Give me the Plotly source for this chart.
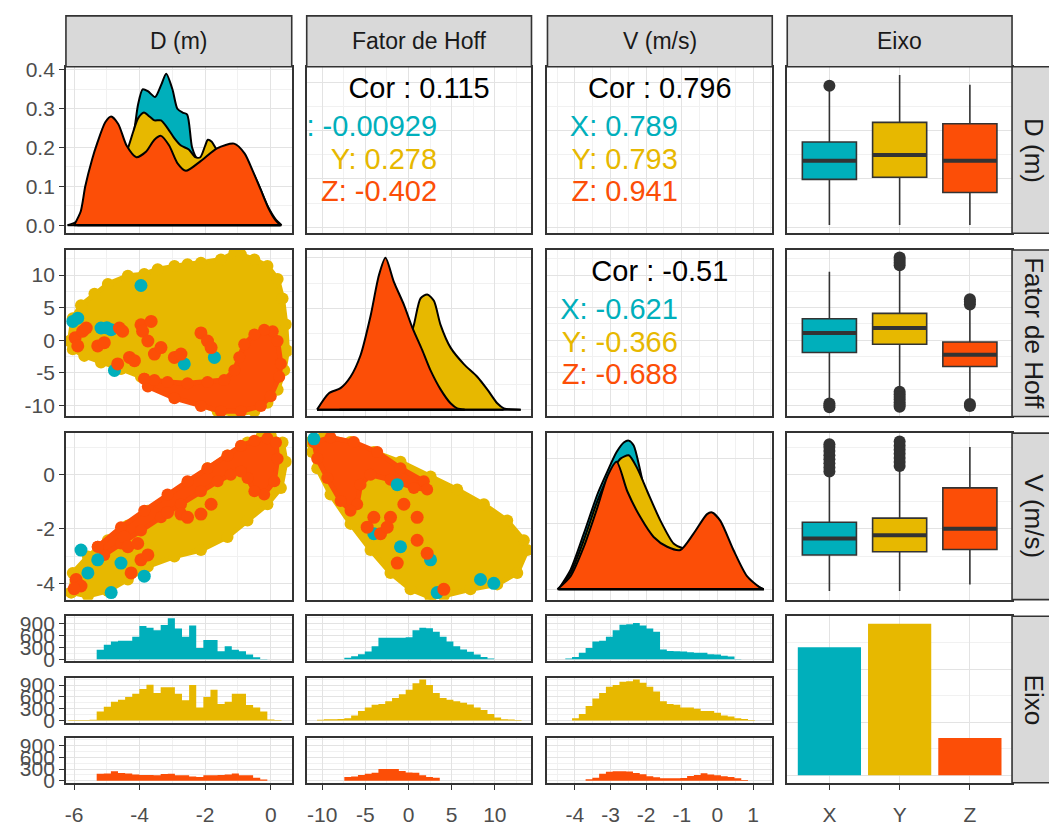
import plotly.graph_objects as go

W, H = 1049, 831
FONT = "Liberation Sans, Arial, Helvetica, sans-serif"
BORDER = "#333333"
GRID_MAJOR = "#E3E3E3"
GRID_MINOR = "#F1F1F1"
STRIP_FILL = "#D9D9D9"

GROUPS = ["X", "Y", "Z"]
GROUP_COLORS = ["#00AFBB", "#E7B800", "#FC4E07"]
VAR_LABELS = ["D (m)", "Fator de Hoff", "V (m/s)", "Eixo"]

# ---------------- correlations ----------------
COR_D_HOFF = 0.115
COR_D_HOFF_GROUP = [-0.00929, 0.278, -0.402]
COR_D_V = 0.796
COR_D_V_GROUP = [0.789, 0.793, 0.941]
COR_HOFF_V = -0.51
COR_HOFF_V_GROUP = [-0.621, -0.366, -0.688]

# ---------------- counts per Eixo ----------------
EIXO_COUNTS = [12100, 14300, 3530]

# ---------------- density curves ----------------
DENS_D = {
    "X": ([-5.9, -5.6, -5.3, -5.0, -4.7, -4.4, -4.2, -4.05, -3.91, -3.75, -3.53, -3.35, -3.19, -3.0,
           -2.85, -2.69, -2.55, -2.4, -2.23, -2.0, -1.7, -1.4, -1.1, -0.8, -0.5, -0.2, 0.1, 0.3],
          [0.0, 0.03, 0.09, 0.14, 0.17, 0.19, 0.23, 0.31, 0.35, 0.345, 0.33, 0.36, 0.39, 0.35,
           0.30, 0.29, 0.285, 0.2, 0.17, 0.17, 0.16, 0.15, 0.12, 0.09, 0.06, 0.025, 0.005, 0.0]),
    "Y": ([-6.2, -5.9, -5.6, -5.3, -5.0, -4.7, -4.4, -4.2, -4.05, -3.87, -3.7, -3.55, -3.35, -3.15, -2.95,
           -2.74, -2.5, -2.3, -2.15, -2.0, -1.92, -1.8, -1.6, -1.3, -1.0, -0.7, -0.4, -0.1, 0.15, 0.33],
          [0.0, 0.01, 0.04, 0.09, 0.13, 0.16, 0.19, 0.24, 0.275, 0.29, 0.28, 0.27, 0.27, 0.25, 0.225,
           0.205, 0.195, 0.175, 0.175, 0.205, 0.22, 0.215, 0.19, 0.19, 0.195, 0.16, 0.11, 0.05, 0.015, 0.0]),
    "Z": ([-6.0, -5.8, -5.66, -5.45, -5.3, -5.05, -4.87, -4.65, -4.4, -4.1, -3.8, -3.55, -3.35, -3.1,
           -2.85, -2.59, -2.14, -1.64, -1.12, -0.8, -0.55, -0.3, -0.05, 0.15, 0.3],
          [0.0, 0.035, 0.1, 0.17, 0.21, 0.265, 0.28, 0.26, 0.205, 0.175, 0.19, 0.22, 0.23, 0.205,
           0.16, 0.14, 0.165, 0.198, 0.21, 0.185, 0.14, 0.09, 0.04, 0.012, 0.0]),
}
DENS_HOFF = {
    "X": ([-8, -6, -4, -2, 0, 1, 2, 3, 4, 6, 8, 10, 11],
          [0, 0.006, 0.022, 0.036, 0.048, 0.06, 0.072, 0.066, 0.048, 0.026, 0.012, 0.002, 0]),
    "Y": ([-10.6, -8, -6, -4, -2, 0, 0.62, 1.39, 2.17, 2.94, 3.71, 4.87, 6.41, 7.96, 9.12, 10.28, 11.05, 13.0],
          [0, 0.004, 0.012, 0.024, 0.04, 0.055, 0.067, 0.088, 0.091, 0.086, 0.067, 0.049, 0.036, 0.026,
           0.016, 0.005, 0.001, 0]),
    "Z": ([-10.6, -9.23, -7.88, -6.72, -5.56, -4.4, -3.44, -2.67, -1.7, -0.54, 0.43, 1.59, 2.55, 3.71,
           4.87, 5.64, 6.5],
          [0, 0.013, 0.017, 0.026, 0.043, 0.074, 0.106, 0.12, 0.101, 0.083, 0.065, 0.047, 0.031, 0.016,
           0.005, 0.001, 0]),
}
DENS_V = {
    "X": ([-4.46, -4.12, -3.75, -3.37, -3.09, -2.83, -2.62, -2.49, -2.35, -2.16, -1.97, -1.6, -1.23,
           -0.95, -0.67, -0.29, 0.08, 0.45, 0.83, 1.2, 1.3],
          [0, 0.06, 0.17, 0.29, 0.36, 0.42, 0.45, 0.455, 0.44, 0.36, 0.27, 0.18, 0.12, 0.10, 0.09,
           0.085, 0.07, 0.045, 0.02, 0.003, 0]),
    "Y": ([-4.46, -4.12, -3.75, -3.37, -3.09, -2.86, -2.72, -2.49, -2.25, -1.97, -1.6, -1.23, -0.95,
           -0.67, -0.29, 0.08, 0.45, 0.83, 1.2, 1.3],
          [0, 0.05, 0.15, 0.27, 0.34, 0.38, 0.40, 0.41, 0.37, 0.30, 0.21, 0.14, 0.125, 0.12, 0.13,
           0.11, 0.07, 0.03, 0.005, 0]),
    "Z": ([-4.49, -4.12, -3.75, -3.37, -3.09, -2.83, -2.53, -2.16, -1.79, -1.41, -1.04, -0.67, -0.29,
           -0.15, 0.08, 0.45, 0.83, 1.2, 1.3],
          [0, 0.04, 0.13, 0.25, 0.345, 0.39, 0.30, 0.22, 0.16, 0.13, 0.12, 0.17, 0.23, 0.235, 0.21,
           0.12, 0.04, 0.005, 0]),
}

# ---------------- histograms (30 bins each) ----------------
BINS_D = (-6.18, 0.217)
BINS_HOFF = (-10.6, 0.79)
BINS_V = (-4.46, 0.19)
HIST_D = {
    "X": [0, 0, 0, 0, 245, 370, 450, 470, 470, 575, 845, 800, 740, 870, 1040, 780, 575, 860, 290, 490,
          490, 205, 330, 245, 205, 125, 50, 10, 0, 0],
    "Y": [15, 15, 15, 20, 230, 350, 475, 530, 600, 680, 800, 910, 700, 845, 845, 680, 515, 900, 330, 600,
          780, 420, 475, 680, 680, 395, 330, 230, 25, 15],
    "Z": [0, 0, 0, 0, 180, 185, 245, 200, 190, 160, 150, 150, 145, 175, 180, 140, 140, 110, 100, 140,
          145, 150, 160, 190, 145, 140, 80, 30, 0, 0],
}
HIST_HOFF = {
    "X": [0, 0, 0, 0, 40, 80, 130, 200, 330, 550, 550, 550, 550, 560, 740, 800, 790, 700, 575, 450,
          330, 250, 190, 125, 60, 20, 0, 0, 0, 0],
    "Y": [20, 30, 35, 40, 60, 125, 245, 330, 400, 420, 490, 575, 670, 780, 945, 1040, 900, 700, 575, 530,
          490, 450, 410, 330, 270, 165, 80, 35, 25, 15],
    "Z": [0, 0, 0, 0, 100, 110, 150, 180, 205, 300, 300, 300, 250, 210, 205, 140, 100, 80, 0, 0,
          0, 0, 0, 0, 0, 0, 0, 0, 0, 0],
}
HIST_V = {
    "X": [0, 20, 60, 165, 290, 450, 470, 575, 740, 880, 890, 920, 860, 780, 700, 250, 210, 205, 200, 180,
          165, 165, 130, 125, 90, 70, 10, 0, 0, 0],
    "Y": [0, 0, 60, 165, 370, 560, 700, 860, 900, 985, 1000, 1040, 960, 860, 740, 490, 420, 400, 330, 330,
          300, 245, 245, 200, 125, 100, 60, 40, 15, 0],
    "Z": [0, 0, 0, 0, 40, 80, 180, 230, 245, 245, 240, 200, 165, 115, 90, 65, 65, 65, 70, 120,
          150, 195, 160, 145, 115, 100, 65, 20, 0, 0],
}

# ---------------- box plot statistics ----------------
BOX_D = dict(q1=[-4.02, -3.93, -4.56], med=[-3.25, -3.01, -3.25], q3=[-2.47, -1.66, -1.72],
             lo=[-5.91, -5.91, -5.91], hi=[-0.33, 0.30, -0.10])
OUT_D = [[-0.15], [], []]
BOX_HOFF = dict(q1=[-1.88, -0.62, -4.03], med=[1.13, 1.88, -2.23], q3=[3.29, 4.13, -0.27],
                lo=[-9.3, -7.7, -9.5], hi=[10.5, 11.2, 5.3])
OUT_HOFF = [[-9.7, -10.0, -10.3],
            [11.5, 11.9, 12.3, 12.7, -7.9, -8.3, -8.7, -9.1, -9.5, -9.9, -10.2],
            [5.5, 5.9, 6.3, -9.8, -10.1]]
BOX_V = dict(q1=[-2.96, -2.84, -2.76], med=[-2.36, -2.24, -2.0], q3=[-1.76, -1.61, -0.5],
             lo=[-4.28, -4.28, -4.04], hi=[0.0, 0.2, 1.0])
OUT_V = [[0.1, 0.25, 0.4, 0.55, 0.7, 0.85, 1.0, 1.1],
         [0.3, 0.45, 0.6, 0.75, 0.9, 1.05, 1.2],
         []]

# ---------------- scatter clouds ----------------
# D (m) vs Fator de Hoff
CLOUD_DH = dict(
    hull_x=[-6.14, -6.04, -5.79, -5.38, -4.97, -4.36, -3.86, -3.45, -2.94, -2.54, -2.13, -1.52, -1.11, -0.91,
            -0.50, -0.10, 0.21, 0.36, 0.46, 0.51, 0.41, 0.21, -0.10, -0.50, -1.11, -1.62, -2.13, -2.74,
            -3.35, -3.96, -4.57, -5.18, -5.69, -6.04],
    hull_y=[-0.12, 3.39, 5.39, 7.14, 8.65, 9.9, 10.15, 10.9, 11.4, 11.65, 11.9, 12.4, 13.4, 13.15,
            12.4, 11.4, 9.4, 6.4, 2.4, -1.6, -4.6, -7.6, -9.6, -10.9, -11.4, -10.9, -9.9, -8.4,
            -7.1, -5.6, -4.4, -3.4, -2.4, -1.4],
    z_area_x=[-3.86, -3.75, -2.94, -2.13, -1.52, -0.91, -0.30, 0.0, 0.26, 0.31, 0.21, 0.06, -0.2, -0.5,
              -0.81, -0.96, -1.11, -1.42, -1.93, -2.54, -3.15, -3.55],
    z_area_y=[-5.9, -7.1, -8.9, -10.1, -10.9, -10.9, -10.1, -8.6, -5.6, -3.6, -0.1, 1.4, 1.6, 0.9,
              -0.6, -2.6, -4.6, -6.1, -6.4, -6.6, -6.4, -6.1],
    x_pts_x=[-5.89, -5.18, -5.0, -4.87, -3.96, -4.77, -2.64, -1.72, -6.04],
    x_pts_y=[3.39, 1.88, 1.9, 1.63, 8.4, -4.63, -3.63, -2.63, 2.89],
    z_pts_x=[-5.97, -5.89, -5.74, -5.63, -5.28, -5.08, -4.62, -4.52, -4.31, -3.96, -3.91, -3.75, -3.55,
             -3.35, -2.94, -2.74, -2.13, -1.93, -1.82, -3.65, -4.67, -4.16],
    z_pts_y=[0.38, -0.87, 1.38, 1.88, -0.87, -0.37, 1.88, 1.38, -2.63, 2.38, 1.38, -0.12, -2.12,
             -1.12, -2.63, -2.12, 1.13, -0.12, -1.12, 2.89, -3.63, -3.13],
)
# D (m) vs V (m/s)
CLOUD_DV = dict(
    hull_x=[-6.09, -5.58, -4.97, -4.36, -3.75, -2.94, -2.13, -1.32, -0.71, -0.10, 0.31, 0.46, 0.36, 0.0,
            -0.30, -0.71, -1.32, -1.93, -2.54, -3.15, -3.75, -4.36, -4.97, -5.58, -6.04],
    hull_y=[-4.34, -4.46, -4.28, -3.86, -3.38, -3.02, -2.78, -2.3, -1.7, -1.1, -0.5, 0.46, 1.17, 1.41,
            1.35, 1.17, 0.69, 0.22, -0.32, -0.86, -1.34, -1.88, -2.42, -3.02, -3.62],
    z_area_x=[-5.28, -4.57, -3.86, -3.15, -2.54, -1.93, -1.32, -0.91, -0.5, -0.1, 0.16, 0.21, 0.11, -0.2,
              -0.5, -0.71, -0.91, -1.22, -1.62, -2.13, -2.74, -3.35, -3.96, -4.57, -5.08],
    z_area_y=[-2.66, -1.94, -1.34, -0.74, -0.26, 0.22, 0.69, 1.05, 1.23, 1.32, 1.17, 0.57, -0.26, -0.74,
              -0.62, -0.14, 0.1, -0.02, -0.26, -0.62, -1.1, -1.58, -2.06, -2.54, -2.96],
    x_pts_x=[-5.28, -4.57, -3.86, -4.87, -5.58, -5.79],
    x_pts_y=[-3.14, -3.26, -3.74, -4.34, -3.62, -2.78],
    z_pts_x=[-5.94, -5.79, -6.0, -4.47, -4.36, -3.96, -3.75, -3.15, -2.74, -2.54, -2.13, -1.82, -4.06, -4.26],
    z_pts_y=[-3.86, -4.1, -4.2, -2.3, -2.66, -3.14, -2.96, -1.4, -1.46, -1.58, -1.46, -1.1, -2.54, -3.62],
)
# Fator de Hoff vs V (m/s)
CLOUD_HV = dict(
    hull_x=[-11.36, -9.81, -6.72, -4.02, -0.93, 2.55, 5.64, 8.73, 11.44, 13.36, 13.75, 12.6, 10.28, 7.18,
            4.09, 2.55, 0.23, -2.09, -4.4, -6.72, -9.04, -10.58, -11.17],
    hull_y=[1.18, 1.41, 1.18, 0.82, 0.46, -0.08, -0.56, -1.1, -1.7, -2.42, -2.78, -3.62, -4.04, -4.22,
            -4.46, -4.52, -4.22, -3.62, -2.78, -1.82, -0.74, 0.22, 0.82],
    z_area_x=[-10.97, -9.04, -6.34, -3.63, -0.93, 1.77, 2.16, 0.61, -2.09, -4.4, -5.56, -5.95, -6.72,
              -7.88, -9.42, -10.58],
    z_area_y=[1.18, 1.35, 1.18, 0.82, 0.22, -0.26, -0.56, -0.5, -0.2, -0.02, -0.38, -1.1, -1.34,
              -0.98, -0.14, 0.58],
    x_pts_x=[8.34, 9.88, -0.93, -1.31, -4.02, 3.32, -10.97, 2.55],
    x_pts_y=[-3.86, -4.0, -2.66, -0.38, -2.18, -4.34, 1.3, -3.14],
    z_pts_x=[-2.09, -0.54, 1.0, 1.0, -1.31, -3.24, -2.47, 2.16, 4.09, -4.02, -4.79],
    z_pts_y=[-1.58, -1.1, -1.58, -2.42, -3.26, -2.18, -1.94, -2.9, -4.22, -1.58, -1.94],
)

# ---------------- panel geometry (pixels) ----------------
COLS = [(65, 291), (306, 531), (547, 772), (787, 1012)]
ROWS = [(60, 230), (247, 417), (434, 604), (621, 791)]
SUBROWS = [(621, 667), (683.5, 729.5), (745.5, 791)]
STRIP_TOP = (8, 60)
STRIP_RIGHT = (1012, 1062)

D_LIM = [-6.25, 0.64]
HOFF_XLIM = [-11.8, 14.25]
HOFF_YLIM = [-11.7, 13.86]
V_XLIM = [-4.77, 1.54]
V_YLIM = [-4.6, 1.51]
CAT_LIM = [-0.6, 2.6]
DENS_LIM = [[-0.021, 0.408], [-0.0054, 0.1262], [-0.032, 0.478]]
HIST_LIM = [-52, 1092]
BAR_LIM = [-715, 15015]
BOX_WIDTH = 0.77
BAR_WIDTH = 0.9
TICK_SIZE = 21


def xdom(c):
    a, b = COLS[c]
    return [a / W, b / W]


def ydom(top, bottom):
    return [1 - bottom / H, 1 - top / H]


def fmt_tick(v, decimals):
    # plain ASCII hyphen for negatives
    return f"{v:.{decimals}f}"


def axis(rng, dtick=None, minor=None, tickvals=None, ticktext=None, labels=False, decimals=0,
         standoff=0):
    a = dict(range=rng, showgrid=True, gridcolor=GRID_MAJOR, gridwidth=1.1, zeroline=False,
             showline=True, linecolor=BORDER, linewidth=1.7, mirror=True,
             ticks="outside" if labels else "", ticklen=5, tickwidth=1.3, tickcolor=BORDER,
             showticklabels=labels, tickfont=dict(family=FONT, size=TICK_SIZE, color="#4D4D4D"),
             fixedrange=True)
    if standoff:
        a["ticklabelstandoff"] = standoff
    if tickvals is None:
        k0 = int(-(-rng[0] // dtick))
        k1 = int(rng[1] // dtick)
        tickvals = [round(k * dtick, 6) for k in range(k0, k1 + 1)]
        ticktext = [fmt_tick(v, decimals) for v in tickvals]
    a.update(tickmode="array", tickvals=tickvals, ticktext=ticktext)
    if minor:
        a["minor"] = dict(tickmode="linear", tick0=0, dtick=minor, showgrid=True,
                          gridcolor=GRID_MINOR, gridwidth=0.8, ticks="")
    return a


def col_axis(c, labels=False):
    so = 7 if labels else 0
    if c == 0:
        return axis(D_LIM, 2, 1, labels=labels, standoff=so)
    if c == 1:
        return axis(HOFF_XLIM, 5, 2.5, labels=labels, standoff=so)
    if c == 2:
        return axis(V_XLIM, 1, 0.5, labels=labels, standoff=so)
    return axis(CAT_LIM, tickvals=[0, 1, 2], ticktext=GROUPS, labels=labels, standoff=so)


def row_axis(r, labels=False):
    if r == 0:
        return axis(D_LIM, 2, 1, labels=labels)
    if r == 1:
        return axis(HOFF_YLIM, 5, 2.5, labels=labels)
    return axis(V_YLIM, 2, 1, labels=labels)


layout = {}
traces = []
_n = [0]


def new_axes(xcfg, ycfg, xd, yd):
    _n[0] += 1
    s = "" if _n[0] == 1 else str(_n[0])
    layout["xaxis" + s] = dict(xcfg, domain=xd, anchor="y" + s)
    layout["yaxis" + s] = dict(ycfg, domain=yd, anchor="x" + s)
    return "x" + s, "y" + s


def add_density(curves, xa, ya):
    for g, col in zip(GROUPS, GROUP_COLORS):
        xs, ys = curves[g]
        traces.append(go.Scatter(x=xs, y=ys, mode="lines", fill="tozeroy", fillcolor=col,
                                 line=dict(color="black", width=2, shape="spline", smoothing=0.7),
                                 xaxis=xa, yaxis=ya, hoverinfo="skip"))
    for g in GROUPS:
        xs, _ = curves[g]
        traces.append(go.Scatter(x=[xs[0], xs[-1]], y=[0, 0], mode="lines",
                                 line=dict(color="black", width=2), xaxis=xa, yaxis=ya,
                                 hoverinfo="skip"))


def add_cor(total, groups, xa, ya, xr, yr):
    def yat(f):
        return yr[1] - f * (yr[1] - yr[0])
    xc = (xr[0] + xr[1]) / 2
    xright = xr[0] + 0.58 * (xr[1] - xr[0])
    fr = [0.145, 0.372, 0.572, 0.763]
    traces.append(go.Scatter(x=[xc], y=[yat(fr[0])], mode="text", text=[f"Cor : {total:.3g}"],
                             textposition="middle center", cliponaxis=True,
                             textfont=dict(family=FONT, size=29, color="black"),
                             xaxis=xa, yaxis=ya, hoverinfo="skip"))
    for i, (g, col) in enumerate(zip(GROUPS, GROUP_COLORS)):
        traces.append(go.Scatter(x=[xright], y=[yat(fr[i + 1])], mode="text",
                                 text=[f"{g}: {groups[i]:.3g}"], textposition="middle left",
                                 cliponaxis=True, textfont=dict(family=FONT, size=29, color=col),
                                 xaxis=xa, yaxis=ya, hoverinfo="skip"))


def add_box(stats, outliers, xa, ya):
    for i, col in enumerate(GROUP_COLORS):
        traces.append(go.Box(x=[i], q1=[stats["q1"][i]], median=[stats["med"][i]], q3=[stats["q3"][i]],
                             lowerfence=[stats["lo"][i]], upperfence=[stats["hi"][i]],
                             width=BOX_WIDTH, whiskerwidth=0, fillcolor=col, boxpoints=False,
                             line=dict(color=BORDER, width=1.6), xaxis=xa, yaxis=ya, hoverinfo="skip"))
        traces.append(go.Scatter(x=[i - BOX_WIDTH / 2, i + BOX_WIDTH / 2],
                                 y=[stats["med"][i], stats["med"][i]], mode="lines",
                                 line=dict(color=BORDER, width=4), xaxis=xa, yaxis=ya, hoverinfo="skip"))
        if outliers[i]:
            traces.append(go.Scatter(x=[i] * len(outliers[i]), y=outliers[i], mode="markers",
                                     marker=dict(color=BORDER, size=12, line=dict(width=0)),
                                     xaxis=xa, yaxis=ya, hoverinfo="skip"))


def add_cloud(cl, xa, ya):
    x_col, y_col, z_col = GROUP_COLORS
    for kx, ky, col in (("hull_x", "hull_y", y_col), ("z_area_x", "z_area_y", z_col)):
        xs, ys = cl[kx], cl[ky]
        traces.append(go.Scatter(x=xs + xs[:1], y=ys + ys[:1], mode="lines+markers", fill="toself",
                                 fillcolor=col, line=dict(color=col, width=5),
                                 marker=dict(color=col, size=12, line=dict(width=0)),
                                 xaxis=xa, yaxis=ya, hoverinfo="skip"))
    traces.append(go.Scatter(x=cl["x_pts_x"], y=cl["x_pts_y"], mode="markers",
                             marker=dict(color=x_col, size=13, line=dict(width=0)),
                             xaxis=xa, yaxis=ya, hoverinfo="skip"))
    traces.append(go.Scatter(x=cl["z_pts_x"], y=cl["z_pts_y"], mode="markers",
                             marker=dict(color=z_col, size=13, line=dict(width=0)),
                             xaxis=xa, yaxis=ya, hoverinfo="skip"))


def add_hist(counts, bins, col, xa, ya):
    # histogram drawn as one stepped area so adjacent bins join without seams
    start, width = bins
    edges = [start + width * k for k in range(len(counts) + 1)]
    heights = list(counts) + [counts[-1]]
    traces.append(go.Scatter(x=edges, y=heights, mode="lines", fill="tozeroy", fillcolor=col,
                             line=dict(color=col, width=0, shape="hv"),
                             xaxis=xa, yaxis=ya, hoverinfo="skip"))


# ---- row 1 ----
xa, ya = new_axes(col_axis(0), axis(DENS_LIM[0], 0.1, 0.05, labels=True, decimals=1),
                  xdom(0), ydom(*ROWS[0]))
add_density(DENS_D, xa, ya)
xa, ya = new_axes(col_axis(1), row_axis(0), xdom(1), ydom(*ROWS[0]))
add_cor(COR_D_HOFF, COR_D_HOFF_GROUP, xa, ya, HOFF_XLIM, D_LIM)
xa, ya = new_axes(col_axis(2), row_axis(0), xdom(2), ydom(*ROWS[0]))
add_cor(COR_D_V, COR_D_V_GROUP, xa, ya, V_XLIM, D_LIM)
xa, ya = new_axes(col_axis(3), row_axis(0), xdom(3), ydom(*ROWS[0]))
add_box(BOX_D, OUT_D, xa, ya)

# ---- row 2 ----
xa, ya = new_axes(col_axis(0), row_axis(1, labels=True), xdom(0), ydom(*ROWS[1]))
add_cloud(CLOUD_DH, xa, ya)
xa, ya = new_axes(col_axis(1), axis(DENS_LIM[1], 0.04, 0.02), xdom(1), ydom(*ROWS[1]))
add_density(DENS_HOFF, xa, ya)
xa, ya = new_axes(col_axis(2), row_axis(1), xdom(2), ydom(*ROWS[1]))
add_cor(COR_HOFF_V, COR_HOFF_V_GROUP, xa, ya, V_XLIM, HOFF_YLIM)
xa, ya = new_axes(col_axis(3), row_axis(1), xdom(3), ydom(*ROWS[1]))
add_box(BOX_HOFF, OUT_HOFF, xa, ya)

# ---- row 3 ----
xa, ya = new_axes(col_axis(0), row_axis(2, labels=True), xdom(0), ydom(*ROWS[2]))
add_cloud(CLOUD_DV, xa, ya)
xa, ya = new_axes(col_axis(1), row_axis(2), xdom(1), ydom(*ROWS[2]))
add_cloud(CLOUD_HV, xa, ya)
xa, ya = new_axes(col_axis(2), axis(DENS_LIM[2], 0.2, 0.1), xdom(2), ydom(*ROWS[2]))
add_density(DENS_V, xa, ya)
xa, ya = new_axes(col_axis(3), row_axis(2), xdom(3), ydom(*ROWS[2]))
add_box(BOX_V, OUT_V, xa, ya)

# ---- row 4: faceted histograms and counts ----
for c, (hist, bins) in enumerate([(HIST_D, BINS_D), (HIST_HOFF, BINS_HOFF), (HIST_V, BINS_V)]):
    for s, (g, col) in enumerate(zip(GROUPS, GROUP_COLORS)):
        xa, ya = new_axes(col_axis(c, labels=(s == 2)),
                          axis(HIST_LIM, 300, 150, labels=(c == 0)),
                          xdom(c), ydom(*SUBROWS[s]))
        add_hist(hist[g], bins, col, xa, ya)

xa, ya = new_axes(col_axis(3, labels=True), axis(BAR_LIM, 5000, 2500), xdom(3), ydom(*ROWS[3]))
traces.append(go.Bar(x=[0, 1, 2], y=EIXO_COUNTS, width=BAR_WIDTH,
                     marker=dict(color=GROUP_COLORS, line=dict(width=0)),
                     xaxis=xa, yaxis=ya, hoverinfo="skip"))

# ---- strips ----
shapes, annotations = [], []
for c in range(4):
    a, b = COLS[c]
    shapes.append(dict(type="rect", xref="paper", yref="paper", x0=a / W, x1=b / W,
                       y0=1 - STRIP_TOP[1] / H, y1=1 - STRIP_TOP[0] / H,
                       fillcolor=STRIP_FILL, line=dict(color=BORDER, width=1.6), layer="above"))
    annotations.append(dict(xref="paper", yref="paper", x=(a + b) / 2 / W,
                            y=1 - (STRIP_TOP[0] + STRIP_TOP[1]) / 2 / H, text=VAR_LABELS[c],
                            showarrow=False, font=dict(family=FONT, size=23, color="#1A1A1A"),
                            xanchor="center", yanchor="middle"))
for r in range(4):
    t, b = ROWS[r]
    shapes.append(dict(type="rect", xref="paper", yref="paper", x0=STRIP_RIGHT[0] / W,
                       x1=STRIP_RIGHT[1] / W, y0=1 - b / H, y1=1 - t / H,
                       fillcolor=STRIP_FILL, line=dict(color=BORDER, width=1.6), layer="above"))
    annotations.append(dict(xref="paper", yref="paper", x=(STRIP_RIGHT[0] + 22) / W,
                            y=1 - (t + b) / 2 / H, text=VAR_LABELS[r], textangle=90,
                            showarrow=False, font=dict(family=FONT, size=26, color="#1A1A1A"),
                            xanchor="center", yanchor="middle"))

fig = go.Figure(data=traces)
fig.update_layout(
    width=W, height=H, margin=dict(l=0, r=0, t=0, b=0),
    paper_bgcolor="white", plot_bgcolor="white", showlegend=False, hovermode=False,
    shapes=shapes, annotations=annotations, font=dict(family=FONT),
    **layout,
)
fig.write_html("out.html")
